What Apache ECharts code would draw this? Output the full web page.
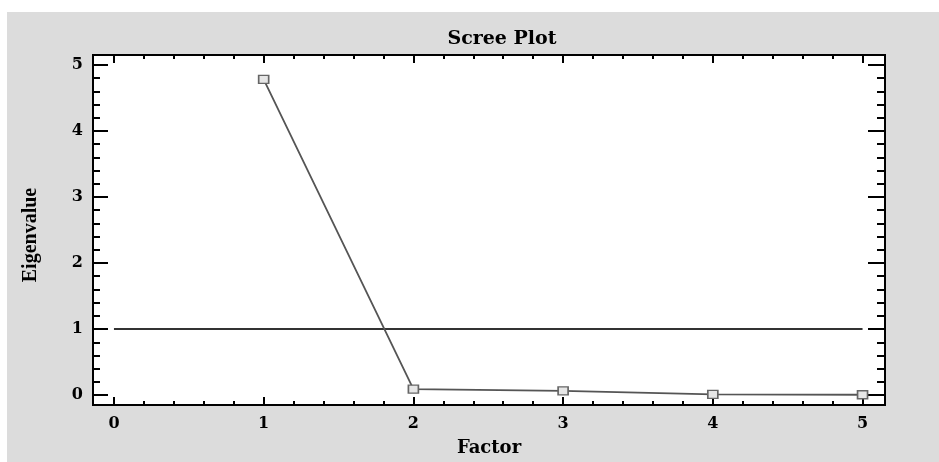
<!DOCTYPE html>
<html>
<head>
<meta charset="utf-8">
<title>Scree Plot</title>
<script src="https://cdn.jsdelivr.net/npm/echarts@6/dist/echarts.min.js"></script>
<style>
  html, body { margin: 0; padding: 0; background: #fff; }
  #chart { width: 939px; height: 462px; }
</style>
</head>
<body>
<div id="chart"></div>
<script>
// ── Data ────────────────────────────────────────────────────────────────
const factors = [1, 2, 3, 4, 5];
const eigenvalues = [4.78, 0.09, 0.065, 0.01, 0.005];

// Kaiser reference line (eigenvalue = 1), drawn from factor 0 to 5
const refLineX = [0, 5];
const refLineY = [1, 1];

// ── Axis ticks ──────────────────────────────────────────────────────────
const xMajorTicks = [0, 1, 2, 3, 4, 5];
const xMinorTicks = [0.2, 0.4, 0.6, 0.8, 1.2, 1.4, 1.6, 1.8, 2.2, 2.4, 2.6, 2.8,
                     3.2, 3.4, 3.6, 3.8, 4.2, 4.4, 4.6, 4.8];
const yMajorTicks = [0, 1, 2, 3, 4, 5];
const yMinorTicks = [0.2, 0.4, 0.6, 0.8, 1.2, 1.4, 1.6, 1.8, 2.2, 2.4, 2.6, 2.8,
                     3.2, 3.4, 3.6, 3.8, 4.2, 4.4, 4.6, 4.8];
const xRange = [-0.14, 5.15];
const yRange = [-0.15, 5.15];

// ── Styles ──────────────────────────────────────────────────────────────
const SERIF_WIDE = '"DejaVu Serif", "Liberation Serif", serif';
const SERIF_NARROW = '"Liberation Serif", "DejaVu Serif", serif';
const INK = '#000';

function xAxisDef(position, ticks, len, showLabels, extra) {
  return Object.assign({
    type: 'value',
    position: position,
    min: xRange[0],
    max: xRange[1],
    axisLine: { show: true, onZero: false, lineStyle: { color: INK, width: 2 } },
    axisTick: { show: true, inside: true, length: len, customValues: ticks,
                lineStyle: { color: INK, width: 2 } },
    axisLabel: showLabels
      ? { show: true, customValues: ticks, margin: 11, color: INK,
          fontFamily: SERIF_WIDE, fontWeight: 'bold', fontSize: 16 }
      : { show: false },
    splitLine: { show: false },
  }, extra || {});
}

function yAxisDef(position, ticks, len, showLabels, extra) {
  return Object.assign({
    type: 'value',
    position: position,
    min: yRange[0],
    max: yRange[1],
    axisLine: { show: true, onZero: false, lineStyle: { color: INK, width: 2 } },
    axisTick: { show: true, inside: true, length: len, customValues: ticks,
                lineStyle: { color: INK, width: 2 } },
    axisLabel: showLabels
      ? { show: true, customValues: ticks, margin: 10, color: INK,
          fontFamily: SERIF_WIDE, fontWeight: 'bold', fontSize: 16 }
      : { show: false },
    splitLine: { show: false },
  }, extra || {});
}

const chart = echarts.init(document.getElementById('chart'), null, { renderer: 'canvas' });

chart.setOption({
  animation: false,
  backgroundColor: '#dcdcdc',
  graphic: [
    // white margins on the top and left of the grey panel
    { type: 'rect', shape: { x: 0, y: 0, width: 939, height: 12 }, style: { fill: '#fff' }, silent: true },
    { type: 'rect', shape: { x: 0, y: 0, width: 7, height: 462 }, style: { fill: '#fff' }, silent: true },
  ],
  title: {
    text: 'Scree Plot',
    left: 497,
    top: 25,
    textAlign: 'center',
    textStyle: { fontFamily: SERIF_WIDE, fontWeight: 'bold', fontSize: 19, color: INK },
  },
  grid: {
    left: 93, top: 55, right: 54, bottom: 57,
    show: true, backgroundColor: '#fff', borderWidth: 0,
  },
  xAxis: [
    xAxisDef('bottom', xMajorTicks, 8, true, {
      name: 'Factor', nameLocation: 'middle', nameGap: 34,
      nameTextStyle: { fontFamily: SERIF_WIDE, fontWeight: 'bold', fontSize: 18, color: INK },
    }),
    xAxisDef('bottom', xMinorTicks, 4, false),
    xAxisDef('top', xMajorTicks, 8, false),
    xAxisDef('top', xMinorTicks, 4, false),
  ],
  yAxis: [
    yAxisDef('left', yMajorTicks, 15, true, {
      name: 'Eigenvalue', nameLocation: 'middle', nameGap: 52,
      nameTextStyle: { fontFamily: SERIF_NARROW, fontWeight: 'bold', fontSize: 20, color: INK,
                       padding: [0, 10, 0, 0] },
    }),
    yAxisDef('left', yMinorTicks, 7, false),
    yAxisDef('right', yMajorTicks, 17, false),
    yAxisDef('right', yMinorTicks, 8, false),
  ],
  series: [
    {
      name: 'Eigenvalue = 1',
      type: 'line',
      xAxisIndex: 0,
      yAxisIndex: 0,
      data: refLineX.map((x, i) => [x, refLineY[i]]),
      symbol: 'none',
      lineStyle: { color: '#333', width: 2 },
      z: 2,
    },
    {
      name: 'Eigenvalues',
      type: 'line',
      xAxisIndex: 0,
      yAxisIndex: 0,
      data: factors.map((f, i) => [f, eigenvalues[i]]),
      symbol: 'rect',
      symbolSize: [10, 8],
      showAllSymbol: true,
      lineStyle: { color: '#555', width: 1.8 },
      itemStyle: { color: '#e6e6e6', borderColor: '#666', borderWidth: 1.5 },
      z: 3,
    },
  ],
});
</script>
</body>
</html>
